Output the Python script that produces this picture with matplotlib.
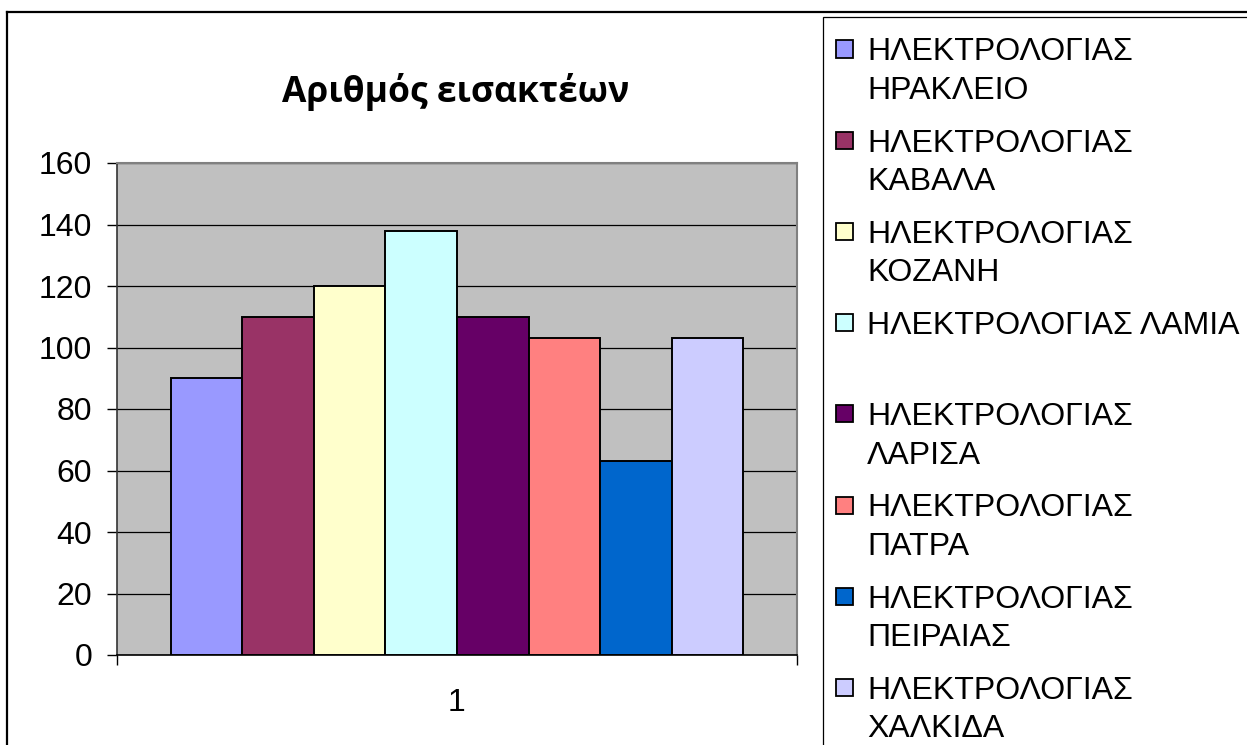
import matplotlib
matplotlib.use('Agg')
import matplotlib.pyplot as plt
from matplotlib.patches import Rectangle
from matplotlib.lines import Line2D
import numpy as np

plt.rcParams['font.family'] = ['Liberation Sans', 'DejaVu Sans']

# data
title = 'Αριθμός εισακτέων'
category_labels = ['1']
school_labels = [
    'ΗΛΕΚΤΡΟΛΟΓΙΑΣ\nΗΡΑΚΛΕΙΟ',
    'ΗΛΕΚΤΡΟΛΟΓΙΑΣ\nΚΑΒΑΛΑ',
    'ΗΛΕΚΤΡΟΛΟΓΙΑΣ\nΚΟΖΑΝΗ',
    'ΗΛΕΚΤΡΟΛΟΓΙΑΣ ΛΑΜΙΑ',
    'ΗΛΕΚΤΡΟΛΟΓΙΑΣ\nΛΑΡΙΣΑ',
    'ΗΛΕΚΤΡΟΛΟΓΙΑΣ\nΠΑΤΡΑ',
    'ΗΛΕΚΤΡΟΛΟΓΙΑΣ\nΠΕΙΡΑΙΑΣ',
    'ΗΛΕΚΤΡΟΛΟΓΙΑΣ\nΧΑΛΚΙΔΑ',
]
values = [90, 110, 120, 138, 110, 103, 63, 103]
colors = ['#9999FF', '#993366', '#FFFFCC', '#CCFFFF',
          '#660066', '#FF8080', '#0066CC', '#CCCCFF']
y_ticks = list(range(0, 161, 20))

W, H = 1247, 745
fig = plt.figure(figsize=(W / 100, H / 100), dpi=100)


def fx(px):
    return px / W


def fy(py):
    return 1 - py / H


# outer chart border (only top and left visible, rest is cut off)
fig.add_artist(Line2D([fx(7), 1.01], [fy(12), fy(12)], color='black', lw=1.6))
fig.add_artist(Line2D([fx(7), fx(7)], [fy(12), -0.01], color='black', lw=1.6))

ax = fig.add_axes([fx(117), fy(655), fx(797) - fx(117), fy(163) - fy(655)])
ax.set_facecolor('#C0C0C0')

n = len(values)
w = 1 / (n + 1.5)
cat = 1
xs = cat - n * w / 2 + w * (np.arange(n) + 0.5)
ax.bar(xs, values, width=w, color=colors, edgecolor='black', linewidth=1.4, zorder=3)

ax.set_xlim(cat - 0.5, cat + 0.5)
ax.set_ylim(0, 160)
ax.set_yticks(y_ticks)
ax.yaxis.grid(True, color='black', linewidth=0.9)
ax.set_axisbelow(True)
ax.tick_params(axis='y', length=7, width=1, pad=11, labelsize=23, colors='black')

ax.set_xticks([cat])
ax.set_xticklabels(category_labels)
ax.set_xticks([cat - 0.5, cat + 0.5], minor=True)
ax.tick_params(axis='x', which='major', length=0, pad=24, labelsize=23)
ax.tick_params(axis='x', which='minor', length=7, width=1)

for s in ['top', 'right']:
    ax.spines[s].set_color('#808080')
    ax.spines[s].set_linewidth(1.5)
ax.spines['left'].set_color('#333333')
ax.spines['bottom'].set_color('black')
ax.spines['left'].set_linewidth(1.2)
ax.spines['bottom'].set_linewidth(1.2)

fig.text(fx(456), fy(102), title, ha='center', va='baseline',
         fontsize=25.5, fontweight='bold', family=['Open Sans', 'DejaVu Sans'])

# legend box, runs off the right and bottom edges
fig.add_artist(Rectangle((fx(823), -0.05), 0.5, fy(17) + 0.05,
                         transform=fig.transFigure, facecolor='white',
                         edgecolor='black', lw=0.9))

for i, (lab, col) in enumerate(zip(school_labels, colors)):
    yc = 49 + 91.2 * i
    fig.add_artist(Rectangle((fx(836), fy(yc + 8.5)), fx(17), 17 / H,
                             transform=fig.transFigure, facecolor=col,
                             edgecolor='black', lw=1.3))
    for j, line in enumerate(lab.split('\n')):
        fig.text(fx(867), fy(yc + 38.5 * j + 11.5), line, ha='left',
                 va='baseline', fontsize=23)

fig.savefig('out.png', dpi=100)
